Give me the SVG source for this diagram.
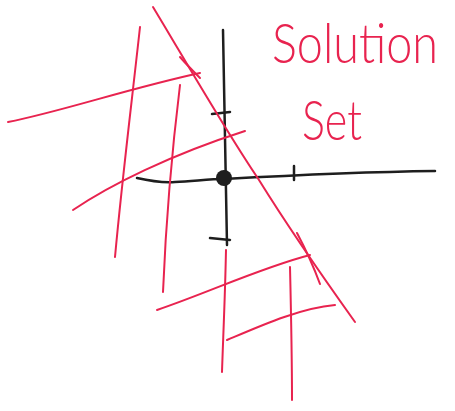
<svg xmlns="http://www.w3.org/2000/svg" width="455" height="411" viewBox="0 0 455 411">
<style>
.r{fill:none;stroke:#e8234f;stroke-width:2;stroke-linecap:round;stroke-linejoin:round}
.k{fill:none;stroke:#1e1e1e;stroke-width:2.5;stroke-linecap:round;stroke-linejoin:round}
.t{fill:#e8234f;font-family:"Lato","Liberation Sans",sans-serif;font-weight:300;font-size:46px}
</style>
<rect width="455" height="411" fill="#fff"/>
<g id="axes">
<path class="k" d="M223,30 C224,90 226,160 227,245"/>
<path class="k" d="M137,178 C150,181 160,183 175,182 C195,181 210,179 224,179 C260,177 350,172 435,171"/>
<path class="k" d="M212,114 L230,112"/>
<path class="k" d="M210,238 L230,240"/>
<path class="k" d="M294,166 L294,180"/>
<circle cx="224" cy="178" r="8" fill="#1e1e1e"/>
</g>
<g id="hatch">
<path class="r" d="M153,7 C185,60 225,130 259,180 C290,230 325,280 355,322"/>
<path class="r" d="M180,57 C186,64 194,72 200,78"/>
<path class="r" d="M297,233 C305,248 313,265 320,284"/>
<path class="r" d="M140,27 C132,100 122,180 115,257"/>
<path class="r" d="M180,85 C172,150 166,220 163,292"/>
<path class="r" d="M8,122 C60,112 130,88 200,73"/>
<path class="r" d="M73,210 C110,185 170,155 245,131"/>
<path class="r" d="M157,310 C210,292 260,268 310,255"/>
<path class="r" d="M227,340 C260,326 300,308 335,305"/>
<path class="r" d="M290,267 C291,310 292,360 292,400"/>
<path class="r" d="M226,250 C225,300 223,340 222,372"/>
</g>
<g id="label">
<text class="t" transform="translate(272,63) scale(1,1.18)" x="0" y="0" textLength="166" lengthAdjust="spacingAndGlyphs">Solution</text>
<text class="t" transform="translate(302,140) scale(1,1.18)" x="0" y="0" textLength="60" lengthAdjust="spacingAndGlyphs">Set</text>
</g>
</svg>
